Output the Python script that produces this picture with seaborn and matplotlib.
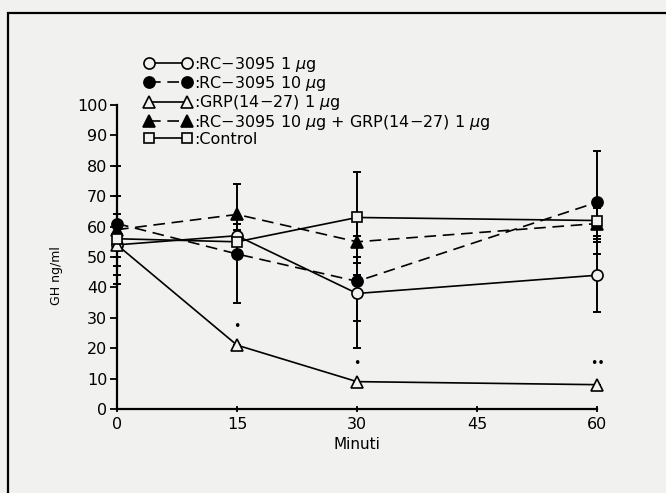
import matplotlib
matplotlib.use("Agg")
import matplotlib.pyplot as plt
import seaborn as sns
import pandas as pd
from matplotlib.patches import Rectangle

# time points (minutes)
times = [0, 15, 30, 60]

# GH ng/ml, means and error extents (below / above)
rc1 = [54, 57, 38, 44]
rc1_lo = [7, 6, 18, 12]
rc1_hi = [6, 4, 6, 12]

rc10 = [61, 51, 42, 68]
rc10_lo = [20, 16, 13, 17]
rc10_hi = [19, 6, 8, 17]

grp = [54, 21, 9, 8]
grp_lo = [0, 0, 0, 0]
grp_hi = [0, 0, 0, 0]

combo = [59, 64, 55, 61]
combo_lo = [15, 8, 7, 6]
combo_hi = [11, 10, 8, 5]

ctrl = [56, 55, 63, 62]
ctrl_lo = [6, 5, 6, 5]
ctrl_hi = [8, 4, 15, 6]

labels = [":RC\u22123095 1 $\\mu$g",
          ":RC\u22123095 10 $\\mu$g",
          ":GRP(14\u221227) 1 $\\mu$g",
          ":RC\u22123095 10 $\\mu$g + GRP(14\u221227) 1 $\\mu$g",
          ":Control"]

# significance marks
sig_t = [15, 30, 60]
sig_y = [27, 15, 15]
sig_txt = ["\u2022", "\u2022", "\u2022\u2022"]

bg = "#f1f1ef"
sns.set_style("ticks")
plt.rcParams["font.family"] = ["DejaVu Sans"]
plt.rcParams["mathtext.fontset"] = "dejavusans"
for key in ["text.color", "axes.labelcolor", "xtick.color", "ytick.color"]:
    plt.rcParams[key] = "black"

fig = plt.figure(figsize=(6.66, 4.93), dpi=100, facecolor=bg)
ax = fig.add_axes([0.1757, 0.1704, 0.7207, 0.6166])
ax.set_facecolor(bg)

series = [
    (rc1, rc1_lo, rc1_hi, "o", "-", False),
    (rc10, rc10_lo, rc10_hi, "o", "--", True),
    (grp, grp_lo, grp_hi, "^", "-", False),
    (combo, combo_lo, combo_hi, "^", "--", True),
    (ctrl, ctrl_lo, ctrl_hi, "s", "-", False),
]

handles = []
for (vals, lo, hi, mk, ls, filled), lab in zip(series, labels):
    df = pd.DataFrame({"t": times, "gh": vals})
    ax.errorbar(df["t"], df["gh"], yerr=[lo, hi], fmt="none", ecolor="black",
                elinewidth=1.4, capsize=3, capthick=1.4, clip_on=False, zorder=2)
    sns.lineplot(data=df, x="t", y="gh", ax=ax, color="black", lw=1.2,
                 marker=mk, markersize=8 if mk != "s" else 7.5,
                 markerfacecolor="black" if filled else bg,
                 markeredgecolor="black", markeredgewidth=1.2,
                 clip_on=False, zorder=3)
    line = ax.lines[-1]
    if ls == "--":
        line.set_dashes((7, 4))
    line.set_label(lab)
    handles.append(line)

for t, y, s in zip(sig_t, sig_y, sig_txt):
    ax.text(t, y, s, ha="center", va="center", fontsize=9, color="black")

ax.set_xlim(0, 60)
ax.set_ylim(0, 100)
ax.set_xticks([0, 15, 30, 45, 60])
ax.set_yticks(range(0, 101, 10))
ax.tick_params(axis="both", labelsize=11.5, width=1.3, length=5, color="black", pad=2)
ax.tick_params(axis="x", direction="inout", pad=3)
for sp in ["left", "bottom"]:
    ax.spines[sp].set_linewidth(1.6)
    ax.spines[sp].set_color("black")
sns.despine(ax=ax)

ax.set_xlabel("Minuti", fontsize=11, labelpad=4)
ax.set_ylabel("GH ng/ml", fontsize=9)
ax.yaxis.set_label_coords(-0.112, 0.44)

leg = ax.legend(handles=handles, loc="upper left", bbox_to_anchor=(0.216, 0.889),
                bbox_transform=fig.transFigure, frameon=False, numpoints=2,
                fontsize=11.5, handlelength=3.0, handletextpad=0.15,
                labelspacing=0.02, borderpad=0, borderaxespad=0)

# scanned page frame
fig.add_artist(Rectangle((0.012, -0.05), 1.1, 0.974 + 0.05, transform=fig.transFigure,
                         fill=False, edgecolor="black", lw=1.6))

fig.savefig("out.png", dpi=100, facecolor=bg)
